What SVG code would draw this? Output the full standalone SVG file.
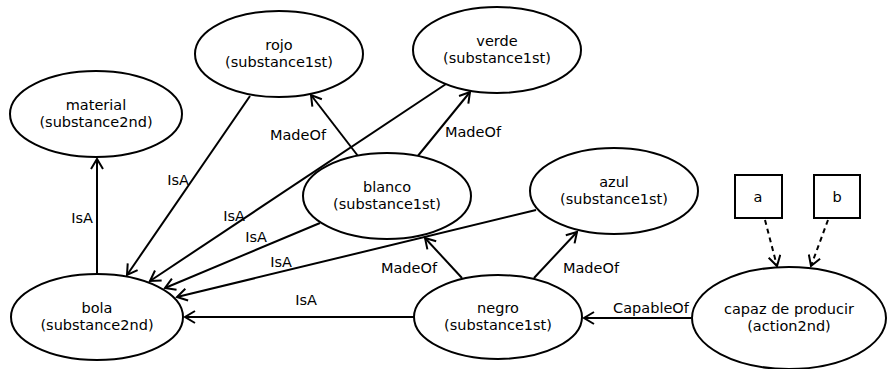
<svg xmlns="http://www.w3.org/2000/svg" width="887" height="369" viewBox="0 0 887 369">
  <defs>
    <marker id="arrow" markerUnits="userSpaceOnUse" markerWidth="14" markerHeight="14" viewBox="0 0 14 14" refX="12" refY="7" orient="auto">
      <path d="M2,1 L12,7 L2,13" fill="none" stroke="#000" stroke-width="2"/>
    </marker>
    <style>
      .node ellipse, .node rect { fill: #fff; stroke: #000; stroke-width: 2; }
      .node text { font-family: "DejaVu Sans", sans-serif; font-size: 14.5px; text-anchor: middle; fill: #000; }
      .edge { stroke: #000; stroke-width: 2; fill: none; marker-end: url(#arrow); }
      .dashed { stroke-dasharray: 5 4; }
      .lbl { font-family: "DejaVu Sans", sans-serif; font-size: 14.5px; fill: #000; text-anchor: middle; }
    </style>
  </defs>

  <g id="connectors">
    <line class="edge" x1="97" y1="275" x2="97" y2="159"/>
    <line class="edge" x1="250" y1="96" x2="127" y2="275"/>
    <line class="edge" x1="446" y1="84" x2="150" y2="281"/>
    <line class="edge" x1="320" y1="223" x2="165" y2="288"/>
    <line class="edge" x1="536" y1="210" x2="177" y2="297"/>
    <line class="edge" x1="415" y1="317" x2="185" y2="317"/>
    <line class="edge" x1="358" y1="156" x2="311" y2="95"/>
    <line class="edge" x1="417" y1="157" x2="470" y2="92"/>
    <line class="edge" x1="462" y1="278" x2="425" y2="238"/>
    <line class="edge" x1="534" y1="278" x2="577" y2="232"/>
    <line class="edge" x1="691" y1="318" x2="584" y2="318"/>
    <line class="edge dashed" x1="765" y1="220" x2="777" y2="266"/>
    <line class="edge dashed" x1="828" y1="220" x2="811" y2="266"/>

    <text class="lbl" x="82" y="223">IsA</text>
    <text class="lbl" x="178" y="185">IsA</text>
    <text class="lbl" x="234" y="221">IsA</text>
    <text class="lbl" x="256" y="242">IsA</text>
    <text class="lbl" x="281" y="267">IsA</text>
    <text class="lbl" x="306" y="305">IsA</text>
    <text class="lbl" x="298" y="140">MadeOf</text>
    <text class="lbl" x="473" y="137">MadeOf</text>
    <text class="lbl" x="409" y="273">MadeOf</text>
    <text class="lbl" x="591" y="273">MadeOf</text>
    <text class="lbl" x="651" y="313">CapableOf</text>
  </g>

  <g id="material" class="node">
    <ellipse cx="96" cy="114" rx="86" ry="43"/>
    <text x="96" y="110">material</text>
    <text x="96" y="127">(substance2nd)</text>
  </g>
  <g id="rojo" class="node">
    <ellipse cx="279" cy="54" rx="84" ry="43"/>
    <text x="279" y="50">rojo</text>
    <text x="279" y="67">(substance1st)</text>
  </g>
  <g id="verde" class="node">
    <ellipse cx="497" cy="50" rx="84" ry="43"/>
    <text x="497" y="46">verde</text>
    <text x="497" y="63">(substance1st)</text>
  </g>
  <g id="blanco" class="node">
    <ellipse cx="387" cy="196" rx="84" ry="43"/>
    <text x="387" y="192">blanco</text>
    <text x="387" y="209">(substance1st)</text>
  </g>
  <g id="azul" class="node">
    <ellipse cx="614" cy="191" rx="84" ry="43"/>
    <text x="614" y="187">azul</text>
    <text x="614" y="204">(substance1st)</text>
  </g>
  <g id="bola" class="node">
    <ellipse cx="97" cy="317" rx="86" ry="43"/>
    <text x="97" y="313">bola</text>
    <text x="97" y="330">(substance2nd)</text>
  </g>
  <g id="negro" class="node">
    <ellipse cx="498" cy="317" rx="84" ry="42"/>
    <text x="498" y="313">negro</text>
    <text x="498" y="330">(substance1st)</text>
  </g>
  <g id="capaz" class="node">
    <ellipse cx="789" cy="318" rx="97" ry="51"/>
    <text x="789" y="314">capaz de producir</text>
    <text x="789" y="331">(action2nd)</text>
  </g>
  <g id="a" class="node">
    <rect x="735" y="175" width="47" height="43"/>
    <text x="758" y="202">a</text>
  </g>
  <g id="b" class="node">
    <rect x="814" y="175" width="46" height="43"/>
    <text x="837" y="202">b</text>
  </g>
</svg>
